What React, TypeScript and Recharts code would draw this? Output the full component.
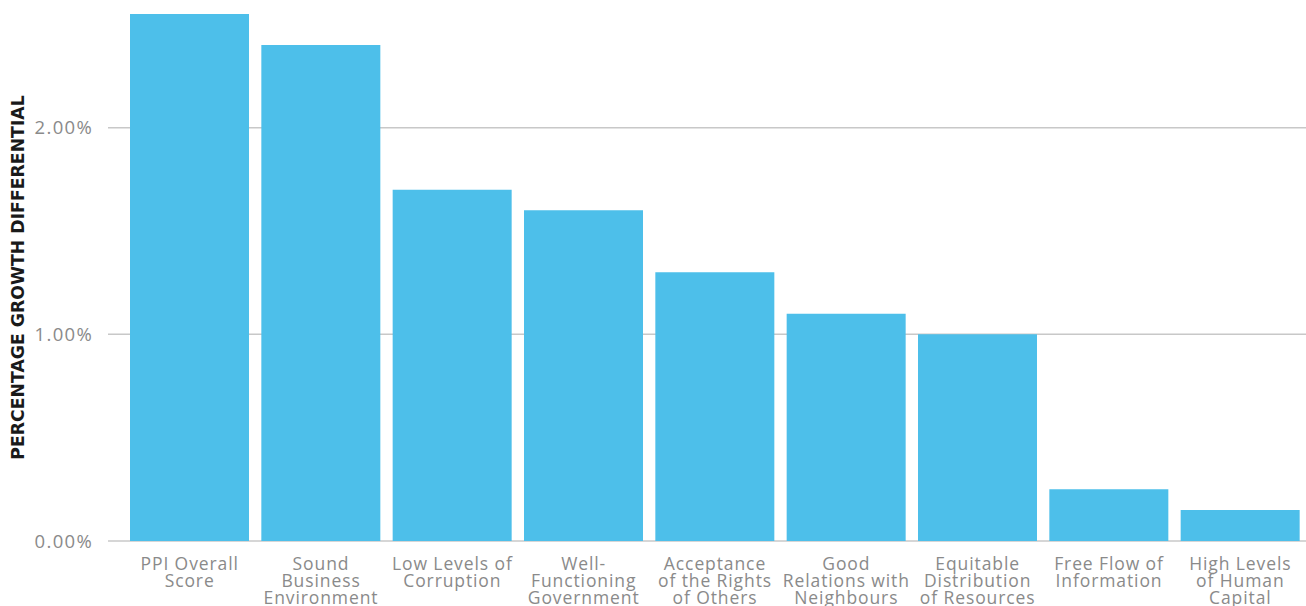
import { BarChart, Bar, XAxis, YAxis, CartesianGrid } from "recharts";

// category labels, line breaks as in the source graphic
const CATEGORIES = [
  "PPI Overall\nScore",
  "Sound\nBusiness\nEnvironment",
  "Low Levels of\nCorruption",
  "Well-\nFunctioning\nGovernment",
  "Acceptance\nof the Rights\nof Others",
  "Good\nRelations with\nNeighbours",
  "Equitable\nDistribution\nof Resources",
  "Free Flow of\nInformation",
  "High Levels\nof Human\nCapital",
];

// percentage growth differential
const GROWTH = [2.55, 2.4, 1.7, 1.6, 1.3, 1.1, 1.0, 0.25, 0.15];

const Y_TICKS = [0, 1, 2];

const BAR_COLOR = "#4dbfea";
const TEXT_COLOR = "#8a8a8a";
const FONT = "'Open Sans', sans-serif";

const data = CATEGORIES.map((name, i) => ({ name, value: GROWTH[i] }));

function CategoryTick(props: any) {
  const { x, y, payload } = props;
  const lines = String(payload.value).split("\n");
  return (
    <g transform={`translate(${x},${y})`}>
      <text
        textAnchor="middle"
        fill={TEXT_COLOR}
        fontSize={17.5}
        letterSpacing={0.9}
        fontFamily={FONT}
      >
        {lines.map((line, i) => (
          <tspan key={i} x={0} y={21 + i * 17}>
            {line}
          </tspan>
        ))}
      </text>
    </g>
  );
}

export default function App() {
  return (
    <div style={{ position: "absolute", left: 0, top: 0 }}>
      <BarChart
        width={1306}
        height={606}
        data={data}
        margin={{ top: 14, right: 0, bottom: 0, left: 0 }}
        barCategoryGap={6}
      >
        <CartesianGrid
          vertical={false}
          horizontalValues={Y_TICKS}
          stroke="#c8c8c8"
          strokeWidth={1.5}
        />
        <XAxis
          dataKey="name"
          interval={0}
          height={65}
          padding={{ left: 16, right: 0 }}
          axisLine={false}
          tickLine={false}
          tick={<CategoryTick />}
        />
        <YAxis
          width={108}
          domain={[0, 2.55]}
          ticks={Y_TICKS}
          axisLine={false}
          tickLine={false}
          tickMargin={9}
          tickFormatter={(v: number) => `${v.toFixed(2)}%`}
          tick={{ fill: TEXT_COLOR, fontSize: 18.5, letterSpacing: 1.3, fontFamily: FONT }}
          label={{
            value: "PERCENTAGE GROWTH DIFFERENTIAL",
            angle: -90,
            position: "insideLeft",
            offset: 18,
            style: {
              textAnchor: "middle",
              fill: "#1a1a1a",
              fontSize: 17.3,
              fontWeight: 700,
              fontFamily: "'DejaVu Sans', sans-serif",
            },
          }}
        />
        <Bar dataKey="value" fill={BAR_COLOR} isAnimationActive={false} />
      </BarChart>
    </div>
  );
}
